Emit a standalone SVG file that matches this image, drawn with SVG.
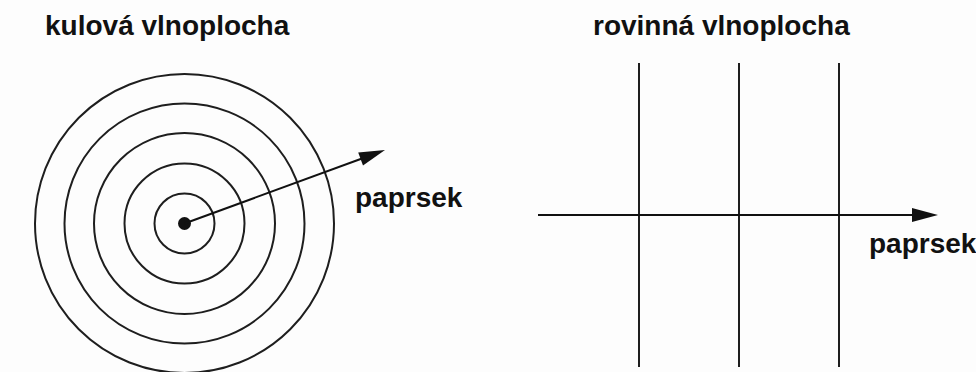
<svg xmlns="http://www.w3.org/2000/svg" width="976" height="372" viewBox="0 0 976 372">
  <style>
    .t { font-family: "Liberation Sans", Arial, sans-serif; font-weight: bold; font-size: 28px; fill: #111; }
    .w { fill: none; stroke: #1e1e1e; stroke-width: 2; }
    .ray { fill: none; stroke: #111; stroke-width: 2; }
    .head { fill: #111; stroke: none; }
  </style>
  <rect width="976" height="372" fill="#fdfdfd"/>

  <g id="title-left"><text class="t" x="45" y="35">kulová vlnoplocha</text></g>
  <g id="title-right"><text class="t" x="593" y="35">rovinná vlnoplocha</text></g>

  <g id="spherical-wavefronts">
    <circle class="w" cx="184.5" cy="223.5" r="30"/>
    <circle class="w" cx="184.5" cy="223.5" r="60"/>
    <circle class="w" cx="184.5" cy="223.5" r="90.5"/>
    <circle class="w" cx="184.5" cy="223.5" r="120"/>
    <circle class="w" cx="184.5" cy="223.5" r="149.5"/>
    <circle cx="184.5" cy="223.5" r="6.5" fill="#111"/>
  </g>

  <g id="plane-wavefronts">
    <line class="w" x1="639" y1="63" x2="639" y2="367"/>
    <line class="w" x1="739" y1="63" x2="739" y2="367"/>
    <line class="w" x1="839" y1="63" x2="839" y2="367"/>
  </g>

  <g id="connectors">
    <line class="ray" x1="184.5" y1="223.5" x2="362" y2="158.5"/>
    <polygon class="head" points="385,150 363,165.6 358.2,152.4"/>
    <line class="ray" x1="538" y1="215" x2="914" y2="215"/>
    <polygon class="head" points="938,215 912,208 912,222"/>
  </g>

  <g id="label-ray-left"><text class="t" x="355" y="207">paprsek</text></g>
  <g id="label-ray-right"><text class="t" x="869" y="253">paprsek</text></g>
</svg>
